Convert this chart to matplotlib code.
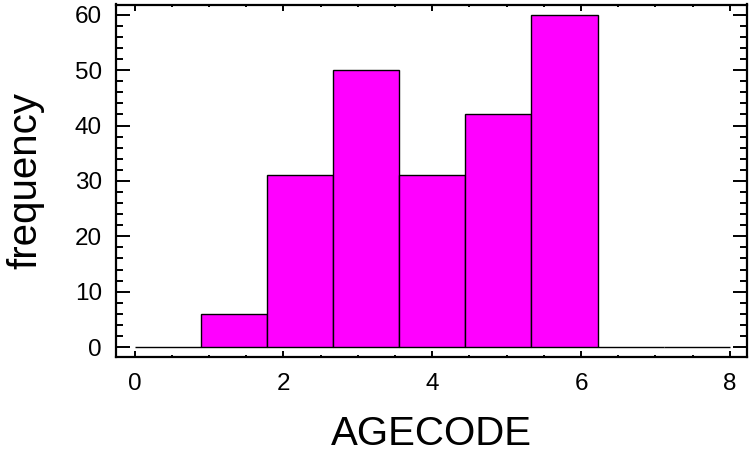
import numpy as np
import matplotlib.pyplot as plt
from matplotlib.ticker import MultipleLocator

plt.rcParams['font.family'] = ['Liberation Sans', 'DejaVu Sans']

# histogram of AGECODE: 9 equal bins over 0..8
bin_edges = np.linspace(0, 8, 10)
counts = [0, 6, 31, 50, 31, 42, 60, 0, 0]

fig = plt.figure(figsize=(7.49, 4.54), dpi=100)
ax = fig.add_axes([116 / 749, 97.5 / 454, 631 / 749, 352 / 454])

widths = np.diff(bin_edges)
ax.bar(bin_edges[:-1], counts, width=widths, align='edge',
       color='#ff00ff', edgecolor='black', linewidth=1.0)

ax.set_xlim(-0.25, 8.23)
ax.set_ylim(-1.7, 61.85)
ax.xaxis.set_major_locator(MultipleLocator(2))
ax.xaxis.set_minor_locator(MultipleLocator(0.5))
ax.yaxis.set_major_locator(MultipleLocator(10))
ax.yaxis.set_minor_locator(MultipleLocator(2))
ax.tick_params(which='both', direction='in', top=True, right=True,
               labelsize=17.5, width=1.4, pad=10)
ax.tick_params(axis='x', which='both', pad=12)
ax.tick_params(axis='x', which='major', length=4)
ax.tick_params(axis='x', which='minor', length=1.6)
ax.tick_params(axis='y', which='major', length=10)
ax.tick_params(axis='y', which='minor', length=5)
for s in ax.spines.values():
    s.set_linewidth(1.6)

ax.set_xlabel('AGECODE', fontsize=29, labelpad=14)
ax.set_ylabel('frequency', fontsize=29, labelpad=22)

fig.savefig('out.png', dpi=100)
